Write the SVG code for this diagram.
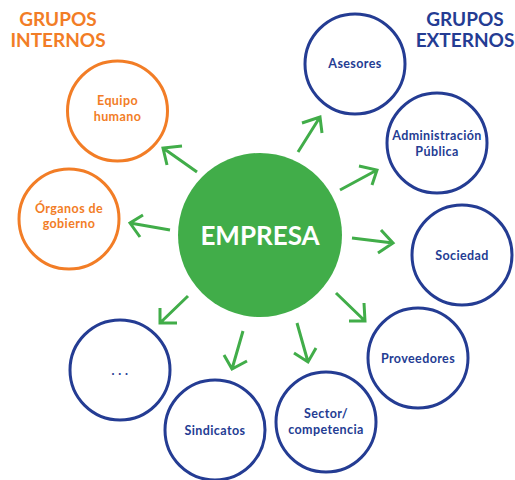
<svg xmlns="http://www.w3.org/2000/svg" width="515" height="480" viewBox="0 0 515 480">
<style>
text{font-family:Lato,"Liberation Sans",sans-serif;font-weight:bold;text-anchor:middle}
.o circle{fill:#fff;stroke:#F27D26;stroke-width:3}
.o text{fill:#F27D26;font-size:12.5px;letter-spacing:0.4px}
.b circle{fill:#fff;stroke:#243C93;stroke-width:3}
.b text{fill:#243C93;font-size:12.5px;letter-spacing:0.4px}
.arr path{fill:none;stroke:#41AD49;stroke-width:3}
.title{font-size:19px}
</style>
<rect width="515" height="480" fill="#fff"/>
<text class="title" x="58" y="26" fill="#F27D26">GRUPOS</text>
<text class="title" x="58" y="47" fill="#F27D26">INTERNOS</text>
<text class="title" x="465" y="26" fill="#243C93">GRUPOS</text>
<text class="title" x="465" y="47" fill="#243C93">EXTERNOS</text>
<g id="empresa"><circle cx="260" cy="235" r="82" fill="#41AD49"/><text x="260" y="245" fill="#fff" font-size="26">EMPRESA</text></g>
<g id="equipo" class="o"><circle cx="117.5" cy="111" r="50"/><text x="117.5" y="105">Equipo</text><text x="117.5" y="121">humano</text></g>
<g id="organos" class="o"><circle cx="69" cy="219" r="50"/><text x="69" y="213">Órganos de</text><text x="69" y="228">gobierno</text></g>
<g id="asesores" class="b"><circle cx="355" cy="64" r="50"/><text x="355" y="68">Asesores</text></g>
<g id="administracion" class="b"><circle cx="437" cy="143" r="50"/><text x="437" y="140">Administración</text><text x="437" y="156">Pública</text></g>
<g id="sociedad" class="b"><circle cx="462" cy="255" r="50"/><text x="462" y="260">Sociedad</text></g>
<g id="proveedores" class="b"><circle cx="418" cy="358" r="50"/><text x="418" y="363">Proveedores</text></g>
<g id="sector" class="b"><circle cx="326" cy="422" r="50"/><text x="326" y="418">Sector/</text><text x="326" y="434">competencia</text></g>
<g id="sindicatos" class="b"><circle cx="215" cy="430" r="50"/><text x="215" y="435">Sindicatos</text></g>
<g id="otros" class="b"><circle cx="120" cy="370" r="50"/><text x="120" y="375">. . .</text></g>
<g id="connectors" class="arr">
<path d="M197 172L163 148M182 146L163 148L167 165"/>
<path d="M170 230L130 223M143 215L130 223L140 237"/>
<path d="M298 152L320 117M302 123L320 117L322 133"/>
<path d="M340 190L377 170M359 166L377 170L372 185"/>
<path d="M352 238L393 243M381 230L393 243L378 253"/>
<path d="M336 293L365 321M364 303L365 321L349 321"/>
<path d="M297 323L308 362M294 353L308 362L316 348"/>
<path d="M243 331L232 369M224 355L232 369L247 361"/>
<path d="M188 296L160 323M160 308L160 323L177 323"/>
</g>
</svg>
